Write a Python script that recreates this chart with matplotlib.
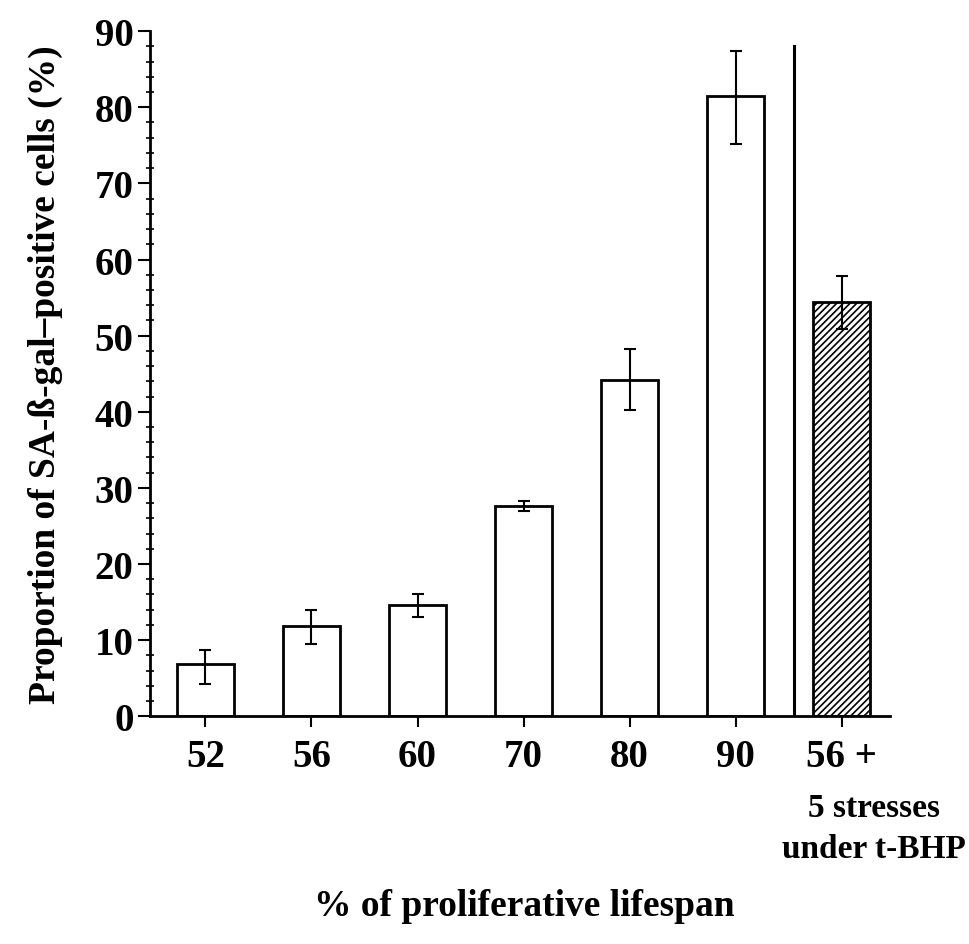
import matplotlib
matplotlib.use("Agg")
import matplotlib.pyplot as plt
from matplotlib.ticker import MultipleLocator
import numpy as np

# data
labels = ["52", "56", "60", "70", "80", "90", "56 +"]
values = [6.8, 11.8, 14.6, 27.6, 44.2, 81.5, 54.4]
err_low = [4.3, 9.5, 13.1, 26.9, 40.2, 75.2, 50.9]
err_high = [8.7, 13.9, 16.0, 28.3, 48.2, 87.4, 57.8]
hatched = [False, False, False, False, False, False, True]

plt.rcParams['font.family'] = ['Liberation Serif', 'DejaVu Serif']
plt.rcParams['hatch.linewidth'] = 1.2

fig = plt.figure(figsize=(9.69, 9.45), dpi=100)
ax = fig.add_axes([0.155, 0.241, 0.763, 0.725])

x = np.arange(len(values))
vals = np.array(values)
yerr = np.vstack([vals - np.array(err_low), np.array(err_high) - vals])

for xi, v, h in zip(x, values, hatched):
    ax.bar(xi, v, width=0.54, facecolor='white', edgecolor='black',
           linewidth=2, hatch='/////' if h else None, zorder=2)
ax.errorbar(x, vals, yerr=yerr, fmt='none', ecolor='black', elinewidth=1.5,
            capsize=4, capthick=1.5, zorder=3)

# separator between lifespan series and stressed cells
ax.axvline(5.55, ymin=0, ymax=0.978, color='black', linewidth=2.2, zorder=1)

ax.set_xlim(-0.52, 6.45)
ax.set_ylim(0, 90)
ax.yaxis.set_major_locator(MultipleLocator(10))
ax.yaxis.set_minor_locator(MultipleLocator(2))
ax.set_xticks(x)
ax.set_xticklabels(labels, fontsize=28, fontweight='bold')
for t in ax.get_yticklabels():
    t.set_fontweight('bold')
ax.tick_params(axis='y', which='major', labelsize=28, length=9, width=1.5,
               direction='out', pad=3)
ax.tick_params(axis='y', which='minor', length=6, width=1.2, direction='inout')
ax.tick_params(axis='x', length=8, width=1.5, pad=8)

ax.spines['top'].set_visible(False)
ax.spines['right'].set_visible(False)
ax.spines['left'].set_linewidth(2)
ax.spines['bottom'].set_linewidth(2)

ax.text(6.3, -10.0, "5 stresses\nunder t-BHP", ha='center', va='top',
        fontsize=24, fontweight='bold', linespacing=1.4)

ax.set_ylabel("Proportion of SA-ß-gal\u2013positive cells (%)", fontsize=27,
              fontweight='bold')
ax.yaxis.set_label_coords(-0.118, 0.5)
ax.set_xlabel("% of proliferative lifespan", fontsize=27, fontweight='bold')
ax.xaxis.set_label_coords(0.506, -0.25)

fig.savefig("out.png", dpi=100)
